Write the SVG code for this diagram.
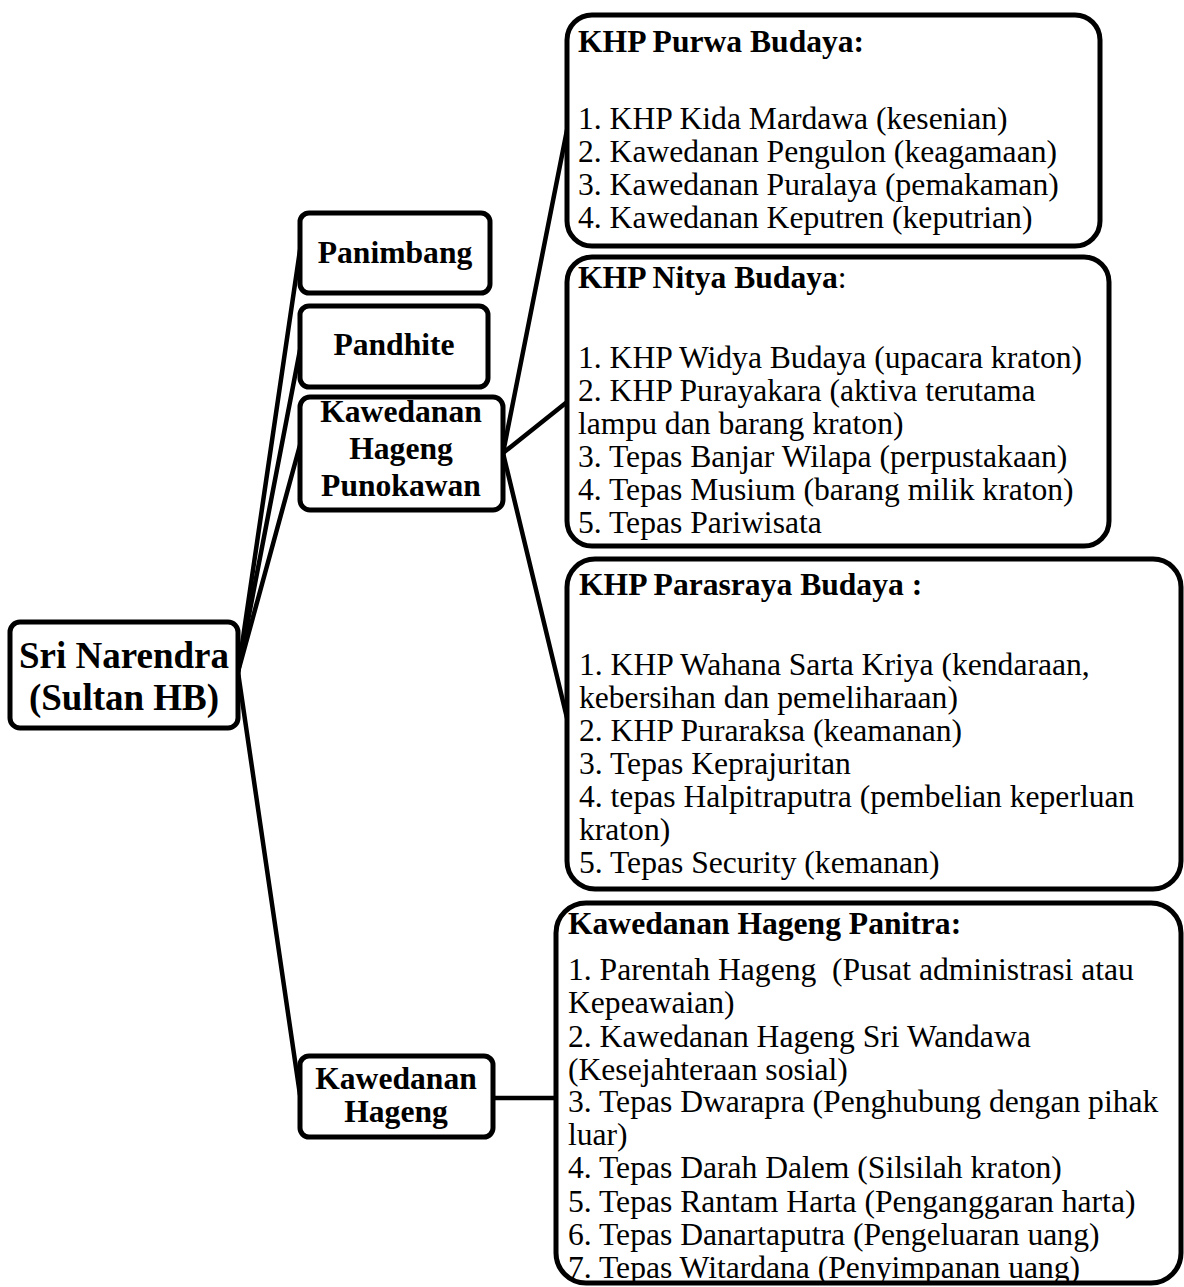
<svg xmlns="http://www.w3.org/2000/svg" width="1184" height="1287" viewBox="0 0 1184 1287">
<style>
.box{fill:#fff;stroke:#000;stroke-width:5}
.big{fill:#fff;stroke:#000;stroke-width:5}
.con{stroke:#000;stroke-width:4.5;fill:none;stroke-linecap:round}
text{font-family:"Liberation Serif","Times New Roman",serif;fill:#000}
.nb{font-size:31.6px;font-weight:bold;text-anchor:middle}
.root{font-size:37px;font-weight:bold;text-anchor:middle}
.t{font-size:31.6px;font-weight:bold}
.b{font-size:31.6px}
</style>
<rect width="1184" height="1287" fill="#fff"/>
<g id="connectors">
<line class="con" x1="238" y1="672" x2="300" y2="250"/>
<line class="con" x1="238" y1="672" x2="300" y2="350"/>
<line class="con" x1="238" y1="672" x2="300" y2="445"/>
<line class="con" x1="238" y1="672" x2="300" y2="1095"/>
<line class="con" x1="503" y1="453" x2="567" y2="130"/>
<line class="con" x1="503" y1="453" x2="567" y2="402"/>
<line class="con" x1="503" y1="453" x2="567" y2="718"/>
<line class="con" x1="493" y1="1098" x2="556" y2="1098"/>
</g>
<g id="root">
<rect class="box" x="10" y="622" width="228" height="106" rx="10"/>
<text class="root" x="124" y="668">Sri Narendra</text>
<text class="root" x="124" y="710">(Sultan HB)</text>
</g>
<g id="panimbang">
<rect class="box" x="300" y="213" width="190" height="80" rx="9"/>
<text class="nb" x="395" y="263">Panimbang</text>
</g>
<g id="pandhite">
<rect class="box" x="300" y="306" width="188" height="81" rx="9"/>
<text class="nb" x="394" y="355">Pandhite</text>
</g>
<g id="punokawan">
<rect class="box" x="300" y="397" width="203" height="113" rx="10"/>
<text class="nb" x="401" y="422">Kawedanan</text>
<text class="nb" x="401" y="459">Hageng</text>
<text class="nb" x="401" y="496">Punokawan</text>
</g>
<g id="kawedanan-hageng">
<rect class="box" x="300" y="1056" width="193" height="81" rx="9"/>
<text class="nb" x="396" y="1089">Kawedanan</text>
<text class="nb" x="396" y="1122">Hageng</text>
</g>
<g id="purwa-budaya">
<rect class="big" x="567" y="15" width="533" height="231" rx="25"/>
<text class="t" x="578" y="52">KHP Purwa Budaya:</text>
<text class="b" x="578" y="129">1. KHP Kida Mardawa (kesenian)</text>
<text class="b" x="578" y="162">2. Kawedanan Pengulon (keagamaan)</text>
<text class="b" x="578" y="195">3. Kawedanan Puralaya (pemakaman)</text>
<text class="b" x="578" y="228">4. Kawedanan Keputren (keputrian)</text>
</g>
<g id="nitya-budaya">
<rect class="big" x="567" y="257" width="542" height="289" rx="25"/>
<text x="578" y="288"><tspan class="t">KHP Nitya Budaya</tspan><tspan class="b">:</tspan></text>
<text class="b" x="578" y="368">1. KHP Widya Budaya (upacara kraton)</text>
<text class="b" x="578" y="401">2. KHP Purayakara (aktiva terutama</text>
<text class="b" x="578" y="434">lampu dan barang kraton)</text>
<text class="b" x="578" y="467">3. Tepas Banjar Wilapa (perpustakaan)</text>
<text class="b" x="578" y="500">4. Tepas Musium (barang milik kraton)</text>
<text class="b" x="578" y="533">5. Tepas Pariwisata</text>
</g>
<g id="parasraya-budaya">
<rect class="big" x="567" y="559" width="614" height="330" rx="28"/>
<text class="t" x="579" y="595">KHP Parasraya Budaya :</text>
<text class="b" x="579" y="675">1. KHP Wahana Sarta Kriya (kendaraan,</text>
<text class="b" x="579" y="708">kebersihan dan pemeliharaan)</text>
<text class="b" x="579" y="741">2. KHP Puraraksa (keamanan)</text>
<text class="b" x="579" y="774">3. Tepas Keprajuritan</text>
<text class="b" x="579" y="807">4. tepas Halpitraputra (pembelian keperluan</text>
<text class="b" x="579" y="840">kraton)</text>
<text class="b" x="579" y="873">5. Tepas Security (kemanan)</text>
</g>
<g id="hageng-panitra">
<rect class="big" x="556" y="903" width="625" height="380" rx="30"/>
<text class="t" x="568" y="934">Kawedanan Hageng Panitra:</text>
<text class="b" x="568" y="980" style="white-space:pre">1. Parentah Hageng  (Pusat administrasi atau</text>
<text class="b" x="568" y="1013">Kepeawaian)</text>
<text class="b" x="568" y="1047">2. Kawedanan Hageng Sri Wandawa</text>
<text class="b" x="568" y="1080">(Kesejahteraan sosial)</text>
<text class="b" x="568" y="1112">3. Tepas Dwarapra (Penghubung dengan pihak</text>
<text class="b" x="568" y="1145">luar)</text>
<text class="b" x="568" y="1178">4. Tepas Darah Dalem (Silsilah kraton)</text>
<text class="b" x="568" y="1212">5. Tepas Rantam Harta (Penganggaran harta)</text>
<text class="b" x="568" y="1245">6. Tepas Danartaputra (Pengeluaran uang)</text>
<text class="b" x="568" y="1278">7. Tepas Witardana (Penyimpanan uang)</text>
</g>
</svg>
